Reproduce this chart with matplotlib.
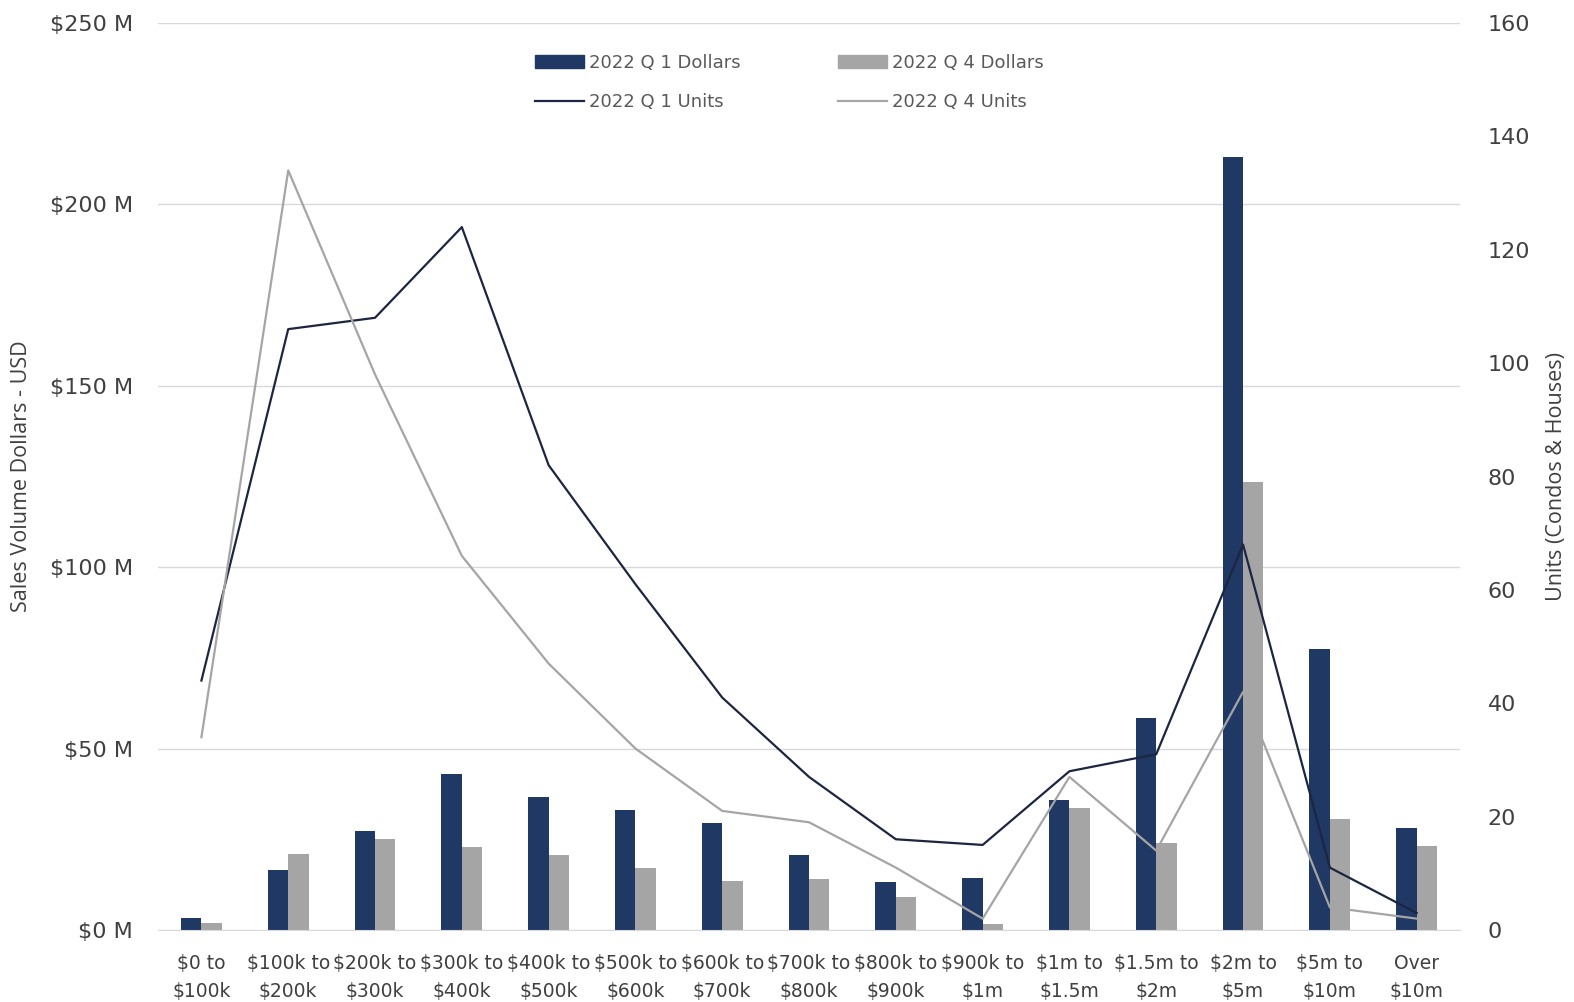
import numpy as np
import matplotlib
matplotlib.use("Agg")
import matplotlib.pyplot as plt
from matplotlib.patches import Patch
from matplotlib.lines import Line2D

categories = ["$0 to\n$100k", "$100k to\n$200k", "$200k to\n$300k", "$300k to\n$400k",
              "$400k to\n$500k", "$500k to\n$600k", "$600k to\n$700k", "$700k to\n$800k",
              "$800k to\n$900k", "$900k to\n$1m", "$1m to\n$1.5m", "$1.5m to\n$2m",
              "$2m to\n$5m", "$5m to\n$10m", "Over\n$10m"]

# sales volume in millions of USD
q1_dollars = [3.4, 16.4, 27.3, 43.0, 36.6, 33.1, 29.5, 20.7, 13.3, 14.3, 35.9, 58.3, 213.0, 77.5, 28.0]
q4_dollars = [2.0, 20.9, 25.0, 22.8, 20.8, 17.2, 13.5, 14.0, 9.0, 1.6, 33.7, 24.1, 123.6, 30.7, 23.2]

# units sold (condos & houses)
q1_units = [44, 106, 108, 124, 82, 61, 41, 27, 16, 15, 28, 31, 68, 11, 3]
q4_units = [34, 134, 98, 66, 47, 32, 21, 19, 11, 2, 27, 14, 42, 4, 2]

navy = "#203864"
grey = "#a5a5a5"
navy_line = "#1c2640"
text_col = "#404040"
narrow = ["Liberation Sans Narrow", "Open Sans"]

fig = plt.figure(figsize=(15.74, 10.02), dpi=100)
ax = fig.add_axes([0.1004, 0.0719, 0.8272, 0.9051])
ax2 = ax.twinx()

x = np.arange(len(categories))
w = 0.235
ax.bar(x - w / 2, q1_dollars, w, color=navy, zorder=2)
ax.bar(x + w / 2, q4_dollars, w, color=grey, zorder=2)

ax2.plot(x, q1_units, color=navy_line, lw=1.6)
ax2.plot(x, q4_units, color=grey, lw=1.6)

ax.set_xlim(-0.5, len(categories) - 0.5)
ax.set_ylim(0, 250)
ax2.set_ylim(0, 160)
ax.set_yticks(np.arange(0, 251, 50))
ax.set_yticklabels([f"${v} M" for v in range(0, 251, 50)])
ax2.set_yticks(np.arange(0, 161, 20))

ax.grid(axis="y", color="#d9d9d9", lw=1, zorder=0)
ax.set_axisbelow(True)
for a in (ax, ax2):
    for s in a.spines.values():
        s.set_visible(False)
ax.spines["bottom"].set_visible(True)
ax.spines["bottom"].set_color("#d9d9d9")

ax.set_xticks(x)
ax.set_xticklabels(categories, fontsize=13.5, color=text_col, family="DejaVu Sans", linespacing=1.6)
ax.tick_params(axis="x", length=0, pad=17)
ax.tick_params(axis="y", length=0, pad=18, labelsize=16, labelcolor=text_col)
ax2.tick_params(axis="y", length=0, pad=20, labelsize=16, labelcolor=text_col)

ax.set_ylabel("Sales Volume Dollars - USD", fontsize=15.5, color=text_col, family=narrow)
ax2.set_ylabel("Units (Condos & Houses)", fontsize=15.5, color=text_col, family=narrow)
ax.yaxis.set_label_coords(-0.097, 0.5)
ax2.yaxis.set_label_coords(1.066, 0.5)

handles = [Patch(color=navy), Line2D([], [], color=navy_line, lw=1.6),
           Patch(color=grey), Line2D([], [], color=grey, lw=1.6)]
labels = ["2022 Q 1 Dollars", "2022 Q 1 Units", "2022 Q 4 Dollars", "2022 Q 4 Units"]
leg = ax2.legend(handles, labels, ncol=2, loc="upper center", bbox_to_anchor=(0.485, 0.984),
                 frameon=False, handlelength=2.7, handleheight=0.8, handletextpad=0.3,
                 columnspacing=5.4, labelspacing=1.2,
                 prop={"family": "DejaVu Sans", "size": 13})
for t in leg.get_texts():
    t.set_color("#595959")

fig.savefig("out.png", dpi=100)
